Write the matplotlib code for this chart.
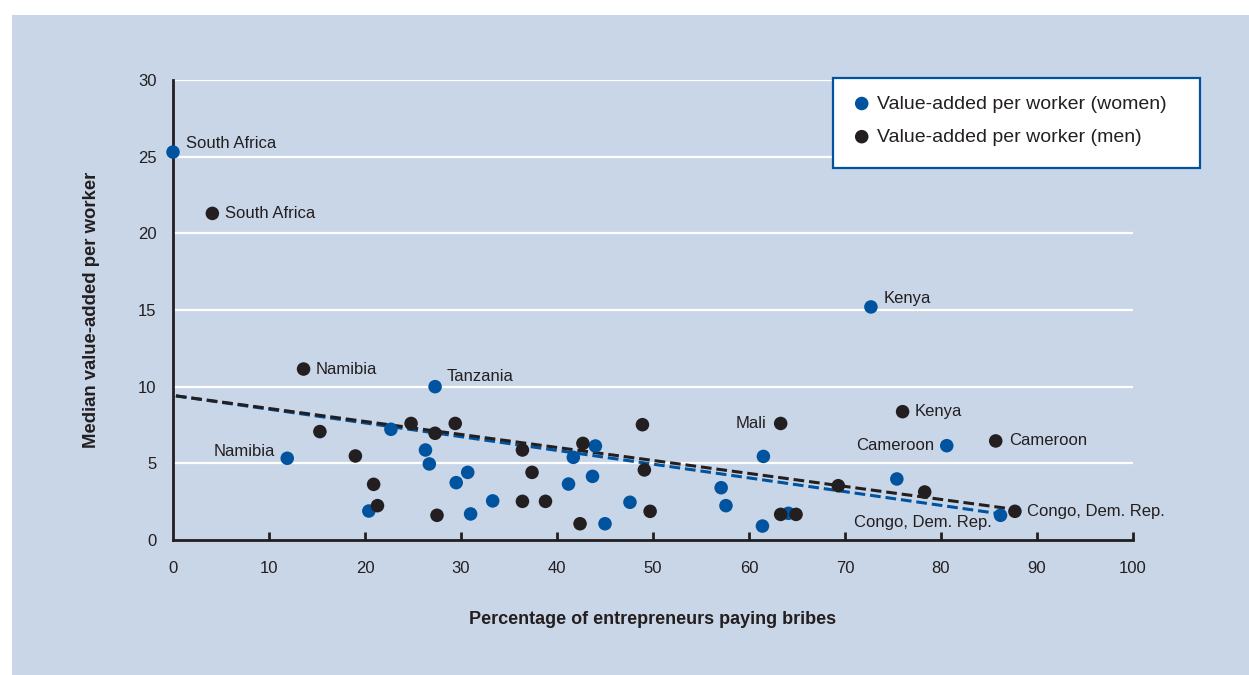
import matplotlib
matplotlib.use('Agg')
import matplotlib.pyplot as plt
from matplotlib.patches import Rectangle

plt.rcParams['font.family'] = ['Liberation Sans', 'DejaVu Sans']

# women: value-added per worker vs share of firms paying bribes
women_x = [0.0, 27.3, 72.7, 80.6, 11.9, 86.2,
           22.7, 44.0, 41.7, 61.5, 26.3, 26.7, 30.7, 43.7, 29.5, 41.2,
           57.1, 75.4, 33.3, 47.6, 57.6, 20.4, 31.0, 64.1, 45.0, 61.4]
women_y = [25.3, 10.0, 15.2, 6.15, 5.33, 1.61,
           7.22, 6.13, 5.39, 5.45, 5.87, 4.96, 4.41, 4.15, 3.74, 3.65,
           3.41, 3.98, 2.55, 2.46, 2.24, 1.89, 1.70, 1.74, 1.06, 0.91]
women_names = ['South Africa', 'Tanzania', 'Kenya', 'Cameroon', 'Namibia', 'Congo, Dem. Rep.']

men_x = [4.1, 13.6, 63.3, 76.0, 85.7, 87.7,
         15.3, 24.8, 27.3, 29.4, 48.9, 36.4, 42.7, 19.0, 37.4, 49.1,
         20.9, 69.3, 78.3, 21.3, 36.4, 38.8, 27.5, 49.7, 63.3, 64.9, 42.4]
men_y = [21.3, 11.15, 7.6, 8.37, 6.46, 1.87,
         7.07, 7.6, 6.96, 7.6, 7.52, 5.87, 6.3, 5.48, 4.41, 4.57,
         3.63, 3.54, 3.13, 2.24, 2.52, 2.52, 1.61, 1.87, 1.67, 1.67, 1.06]
men_names = ['South Africa', 'Namibia', 'Mali', 'Kenya', 'Cameroon', 'Congo, Dem. Rep.']

# fitted trend lines (endpoints)
women_fit_x = [0.3, 86.0]
women_fit_y = [9.4, 1.72]
men_fit_x = [0.3, 87.4]
men_fit_y = [9.4, 2.02]

x_ticks = list(range(0, 101, 10))
y_ticks = list(range(0, 31, 5))

blue = '#00539f'
black = '#231f20'
bg = '#c9d6e8'

# label offsets in points: (dx, dy, ha)
women_offsets = [(9, 6, 'left'), (8, 7, 'left'), (9, 6, 'left'),
                 (-9, 0, 'right'), (-9, 5, 'right'), (-6, -5, 'right')]
men_offsets = [(9, 0, 'left'), (9, 0, 'left'), (-10, 0, 'right'),
               (9, 0, 'left'), (10, 0, 'left'), (9, 0, 'left')]

W, H = 1249, 675
fig = plt.figure(figsize=(W / 100, H / 100), dpi=100)
fig.patch.set_facecolor('white')
fig.patches.append(Rectangle((12 / W, 0), 1, 1 - 15 / H, transform=fig.transFigure,
                             facecolor=bg, edgecolor='none', zorder=-10))

ax = fig.add_axes([173 / W, 1 - 540 / H, 960 / W, 460 / H])
ax.set_facecolor('none')
ax.set_xlim(0, 100)
ax.set_ylim(0, 30)

for y in y_ticks[1:]:
    ax.axhline(y, color='white', lw=1.6, zorder=1)

ax.plot(women_fit_x, women_fit_y, color=blue, lw=2.2, dashes=(3.5, 1.6), zorder=2)
ax.plot(men_fit_x, men_fit_y, color=black, lw=2.2, dashes=(3.5, 1.6), zorder=3)

ax.scatter(women_x, women_y, s=95, color=blue, edgecolor='none', zorder=4, clip_on=False,
           label='Value-added per worker (women)')
ax.scatter(men_x, men_y, s=95, color=black, edgecolor='none', zorder=5, clip_on=False,
           label='Value-added per worker (men)')

for name, x, y, (dx, dy, ha) in zip(women_names, women_x, women_y, women_offsets):
    ax.annotate(name, (x, y), xytext=(dx, dy), textcoords='offset points',
                ha=ha, va='center', fontsize=12, color=black, zorder=6)
for name, x, y, (dx, dy, ha) in zip(men_names, men_x, men_y, men_offsets):
    ax.annotate(name, (x, y), xytext=(dx, dy), textcoords='offset points',
                ha=ha, va='center', fontsize=12, color=black, zorder=6)

for s in ['top', 'right']:
    ax.spines[s].set_visible(False)
for s in ['left', 'bottom']:
    ax.spines[s].set_color(black)
    ax.spines[s].set_linewidth(2)

ax.set_xticks(x_ticks)
ax.set_yticks(y_ticks)
ax.tick_params(axis='x', direction='in', length=6, width=2, color=black,
               labelsize=12, labelcolor=black, pad=15)
ax.tick_params(axis='y', length=0, labelsize=12, labelcolor=black, pad=12)
ax.xaxis.get_major_ticks()[0].tick1line.set_visible(False)

ax.set_xlabel('Percentage of entrepreneurs paying bribes', fontsize=13, fontweight='bold',
              color=black, labelpad=25)
ax.set_ylabel('Median value-added per worker', fontsize=13.3, fontweight='bold',
              color=black, labelpad=27)

# legend box drawn by hand so its padding matches the original
ax.add_patch(Rectangle((833 / W, 1 - 168 / H), 367 / W, 90 / H, transform=fig.transFigure,
                       facecolor='white', edgecolor=blue, lw=1.6, clip_on=False, zorder=10))
leg = ax.legend(loc='upper left', bbox_to_anchor=(852 / W, 1 - 95 / H),
                bbox_transform=fig.transFigure, frameon=False,
                fontsize=14, handletextpad=0.3, borderpad=0, labelspacing=0.8,
                handlelength=1.0, borderaxespad=0)
leg.set_zorder(11)
for t in leg.get_texts():
    t.set_color(black)

fig.savefig('out.png', dpi=100)
